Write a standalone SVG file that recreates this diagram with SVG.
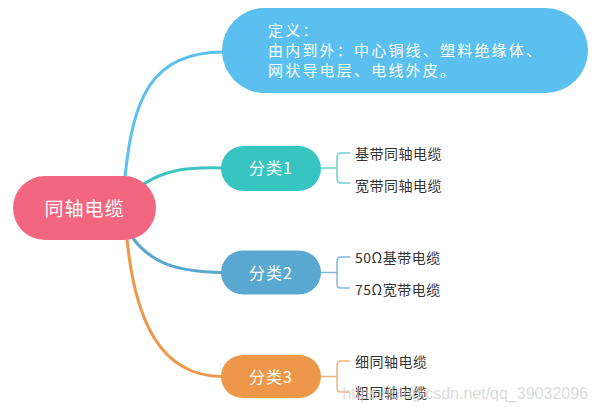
<svg xmlns="http://www.w3.org/2000/svg" width="600" height="414" viewBox="0 0 600 414">
<style>
.cjk{font-family:"Noto Sans CJK SC","Liberation Sans",sans-serif;}
.wt{fill:#ffffff;}
.leaf{fill:#333333;font-size:14px;letter-spacing:0.5px;}
.main{fill:none;stroke-width:3;stroke-linecap:round;}
.br{fill:none;stroke-width:1.5;}
</style>
<rect width="600" height="414" fill="#ffffff"/>
<g id="connectors">
<path class="main" stroke="#5bc0ee" d="M125,177 C133,100 150,52 223,52"/>
<path class="main" stroke="#3cc5c1" d="M142,185 C165,170 185,167 222,168"/>
<path class="main" stroke="#5aa8d0" d="M132,237 C150,262 175,272 222,272.5"/>
<path class="main" stroke="#ec974a" d="M127,239 C135,320 160,376 222,376.5"/>
<path class="br" stroke="#6fd0cd" d="M321,168 H337 M350,153 H341 Q337,153 337,157 V179 Q337,183 341,183 H350"/>
<path class="br" stroke="#7fb8d8" d="M321,272.5 H337 M350,257 H341 Q337,257 337,261 V284 Q337,288 341,288 H350"/>
<path class="br" stroke="#efb07a" d="M321,376.5 H337 M350,361 H341 Q337,361 337,365 V388 Q337,392 341,392 H350"/>
</g>
<g id="root">
<rect x="13" y="176" width="143" height="64" rx="32" fill="#f2667f"/>
<text class="cjk wt" x="84.5" y="216" font-size="19" letter-spacing="1" text-anchor="middle">同轴电缆</text>
</g>
<g id="definition">
<rect x="222" y="8" width="366" height="85" rx="42.5" fill="#5bc0f0"/>
<text class="cjk wt" font-size="15" letter-spacing="2.2">
<tspan x="268" y="36">定义：</tspan>
<tspan x="268" y="56">由内到外：中心铜线、塑料绝缘体、</tspan>
<tspan x="268" y="76">网状导电层、电线外皮。</tspan>
</text>
</g>
<g id="cat1">
<rect x="221" y="146" width="100" height="45" rx="22.5" fill="#38c5c1"/>
<text class="cjk wt" x="271" y="174" font-size="16" letter-spacing="1" text-anchor="middle">分类1</text>
</g>
<g id="cat2">
<rect x="221" y="250.5" width="100" height="44" rx="22" fill="#5aa8d0"/>
<text class="cjk wt" x="271" y="279" font-size="16" letter-spacing="1" text-anchor="middle">分类2</text>
</g>
<g id="cat3">
<rect x="221" y="355" width="100" height="43" rx="21.5" fill="#ec974a"/>
<text class="cjk wt" x="271" y="383" font-size="16" letter-spacing="1" text-anchor="middle">分类3</text>
</g>
<g id="leaf1a"><text class="cjk leaf" x="355" y="159">基带同轴电缆</text></g>
<g id="leaf1b"><text class="cjk leaf" x="355" y="191">宽带同轴电缆</text></g>
<g id="leaf2a"><text class="cjk leaf" x="355" y="263">50Ω基带电缆</text></g>
<g id="leaf2b"><text class="cjk leaf" x="355" y="295">75Ω宽带电缆</text></g>
<g id="leaf3a"><text class="cjk leaf" x="355" y="367">细同轴电缆</text></g>
<g id="leaf3b"><text class="cjk leaf" x="355" y="398">粗同轴电缆</text></g>
<text x="588" y="399" font-family="Liberation Sans, Arial, sans-serif" font-size="16" fill="#cfcfcf" fill-opacity="0.75" text-anchor="end">https://blog.csdn.net/qq_39032096</text>
</svg>
